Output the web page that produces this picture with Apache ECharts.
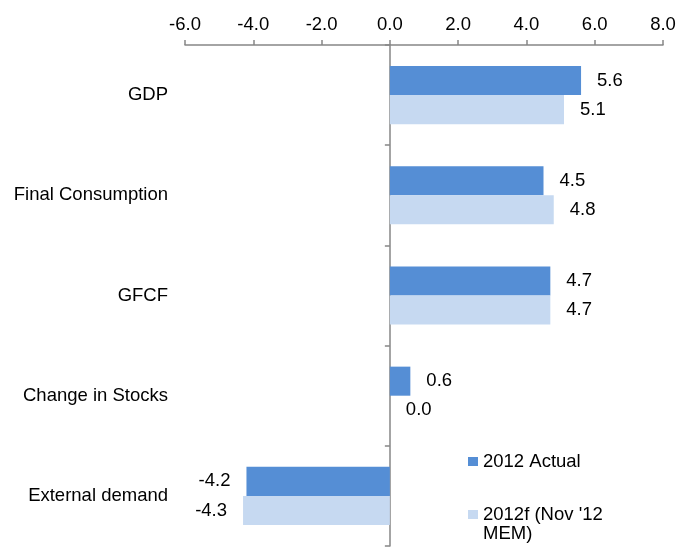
<!DOCTYPE html>
<html>
<head>
<meta charset="utf-8">
<script src="https://cdn.jsdelivr.net/npm/echarts@6/dist/echarts.min.js"></script>
<style>
  html, body { margin: 0; padding: 0; background: #fff; }
  #chart { width: 691px; height: 547px; }
</style>
</head>
<body>
<div id="chart"></div>
<script>
// data
var categories = ['GDP', 'Final Consumption', 'GFCF', 'Change in Stocks', 'External demand'];
var actual2012 = [5.6, 4.5, 4.7, 0.6, -4.2];
var forecast2012 = [5.1, 4.8, 4.7, 0.0, -4.3];
var seriesNames = ['2012 Actual', "2012f (Nov '12 MEM)"];

var FONT = '"Liberation Sans", Arial, sans-serif';
var FS = 18.5;
var AXIS_COLOR = '#868686';

function withLabels(values) {
    // labels sit outside the bar end: right for positive, left for negative
    return values.map(function (v) {
        return { value: v, label: { position: v < 0 ? 'left' : 'right' } };
    });
}

var chart = echarts.init(document.getElementById('chart'), null, { renderer: 'canvas' });

var labelOpt = {
    show: true,
    distance: 16,
    fontSize: FS,
    fontFamily: FONT,
    color: '#000',
    formatter: function (p) { return p.value.toFixed(1); }
};

chart.setOption({
    animation: false,
    textStyle: { fontFamily: FONT },
    grid: { left: 185, right: 28, top: 45, bottom: 1 },
    xAxis: {
        type: 'value',
        position: 'top',
        min: -6, max: 8, interval: 2,
        splitLine: { show: false },
        axisLine: { show: true, lineStyle: { color: AXIS_COLOR, width: 1.5 } },
        axisTick: { show: true, length: 5, lineStyle: { color: AXIS_COLOR, width: 1.5 } },
        axisLabel: {
            margin: 11, fontSize: FS, color: '#000', fontFamily: FONT,
            formatter: function (v) { return v.toFixed(1); }
        }
    },
    yAxis: [{
        type: 'category',
        data: categories,
        inverse: true,
        position: 'right',
        axisLine: { show: true, onZero: true, lineStyle: { color: AXIS_COLOR, width: 1.5 } },
        axisTick: { show: true, inside: true, length: 5, lineStyle: { color: AXIS_COLOR, width: 1.5 } },
        axisLabel: { show: false }
    }, {
        type: 'category',
        data: categories,
        inverse: true,
        position: 'left',
        axisLine: { show: false },
        axisTick: { show: false },
        axisLabel: { margin: 17, fontSize: FS, color: '#000', fontFamily: FONT }
    }],
    legend: [{
        orient: 'vertical',
        left: 468, top: 452,
        padding: 0,
        icon: 'rect', itemWidth: 10, itemHeight: 9,
        data: [seriesNames[0]],
        textStyle: { fontSize: FS, color: '#000', fontFamily: FONT }
    }, {
        orient: 'vertical',
        left: 468, top: 486,
        padding: 0,
        icon: 'rect', itemWidth: 10, itemHeight: 9,
        data: [seriesNames[1]],
        // blank first line so the marker lines up with the first text line
        formatter: function () { return "\n2012f (Nov '12\nMEM)"; },
        textStyle: { fontSize: FS, lineHeight: 19, color: '#000', fontFamily: FONT }
    }],
    series: [{
        name: seriesNames[0],
        type: 'bar',
        yAxisIndex: 0,
        data: withLabels(actual2012),
        barGap: '0%',
        barCategoryGap: '42%',
        itemStyle: { color: '#558ED5' },
        label: labelOpt
    }, {
        name: seriesNames[1],
        type: 'bar',
        yAxisIndex: 0,
        data: withLabels(forecast2012),
        barGap: '0%',
        barCategoryGap: '42%',
        itemStyle: { color: '#C6D9F1' },
        label: labelOpt
    }]
});
</script>
</body>
</html>
